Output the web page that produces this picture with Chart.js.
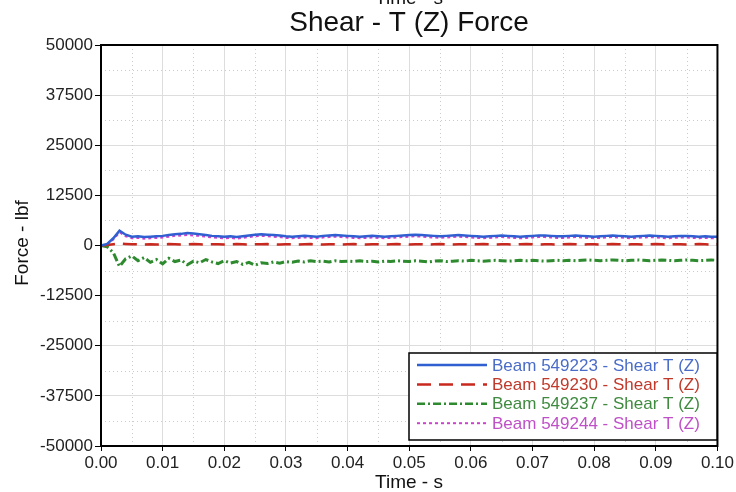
<!DOCTYPE html>
<html><head><meta charset="utf-8">
<script src="https://cdn.jsdelivr.net/npm/chart.js@4/dist/chart.umd.min.js"></script>
<style>html,body{margin:0;padding:0;background:#fff}</style>
</head><body>
<canvas id="c" width="736" height="492"></canvas>
<script>
const time = [0,0.001,0.002,0.003,0.004,0.005,0.006,0.007,0.008,0.009,
0.010,0.011,0.012,0.013,0.014,0.015,0.016,0.017,0.018,0.019,
0.020,0.021,0.022,0.023,0.024,0.025,0.026,0.027,0.028,0.029,
0.030,0.031,0.032,0.033,0.034,0.035,0.036,0.037,0.038,0.039,
0.040,0.041,0.042,0.043,0.044,0.045,0.046,0.047,0.048,0.049,
0.050,0.051,0.052,0.053,0.054,0.055,0.056,0.057,0.058,0.059,
0.060,0.061,0.062,0.063,0.064,0.065,0.066,0.067,0.068,0.069,
0.070,0.071,0.072,0.073,0.074,0.075,0.076,0.077,0.078,0.079,
0.080,0.081,0.082,0.083,0.084,0.085,0.086,0.087,0.088,0.089,
0.090,0.091,0.092,0.093,0.094,0.095,0.096,0.097,0.098,0.099,0.100];

const beam549223 = [0,400,1800,3700,2700,2200,2300,2100,2200,2300,
2400,2600,2800,2900,3100,3000,2800,2600,2400,2300,
2200,2300,2100,2300,2500,2700,2800,2700,2600,2500,
2300,2200,2300,2400,2300,2200,2400,2500,2600,2500,
2400,2300,2200,2300,2400,2300,2200,2300,2400,2500,
2600,2700,2600,2500,2400,2300,2400,2500,2600,2500,
2400,2300,2200,2300,2400,2500,2400,2300,2200,2300,
2400,2500,2500,2400,2300,2300,2400,2500,2400,2300,
2200,2300,2400,2500,2400,2300,2200,2300,2400,2500,
2400,2300,2200,2300,2400,2400,2300,2200,2300,2200,2200];

const beam549230 = [0,100,300,500,400,300,300,250,300,250,
300,350,300,250,300,350,300,250,300,300,
250,300,350,300,250,300,300,350,300,250,
300,300,250,300,350,300,250,300,300,250,
300,350,300,250,300,300,250,300,350,300,
250,300,300,250,300,350,300,250,300,300,
250,300,350,300,250,300,300,250,300,350,
300,250,300,300,250,300,350,300,250,300,
300,250,300,350,300,250,300,300,250,300,
350,300,250,300,300,250,300,350,300,250,300];

const beam549237 = [0,-300,-1800,-5200,-3300,-2600,-3800,-3000,-4200,-3500,
-4600,-3200,-4000,-3600,-4800,-3900,-4300,-3500,-4100,-4500,
-3800,-4400,-4000,-4700,-4200,-4900,-4300,-4500,-4100,-4400,
-4000,-4200,-3900,-4100,-3800,-4000,-3900,-4100,-3800,-4000,
-3900,-4000,-3800,-4000,-3900,-4100,-3900,-4000,-3800,-3900,
-4000,-3800,-3900,-4100,-3900,-3800,-4000,-3900,-3800,-3900,
-3700,-3800,-3900,-3800,-3700,-3800,-3900,-3800,-3700,-3800,
-3700,-3800,-3900,-3800,-3700,-3800,-3700,-3800,-3700,-3600,
-3700,-3800,-3700,-3600,-3700,-3800,-3700,-3600,-3700,-3800,
-3700,-3600,-3700,-3800,-3700,-3600,-3700,-3800,-3700,-3600,-3700];

const beam549244 = [0,300,1500,3300,2300,1800,1900,1700,1800,1900,
2000,2200,2400,2500,2600,2500,2400,2200,2000,1900,
1800,1900,1700,1900,2100,2300,2400,2300,2200,2100,
1900,1800,1900,2000,1900,1800,2000,2100,2200,2100,
2000,1900,1800,1900,2000,1900,1800,1900,2000,2100,
2200,2300,2200,2100,2000,1900,2000,2100,2200,2100,
2000,1900,1800,1900,2000,2100,2000,1900,1800,1900,
2000,2100,2100,2000,1900,1900,2000,2100,2000,1900,
1800,1900,2000,2100,2000,1900,1800,1900,2000,2100,
2000,1900,1800,1900,2000,2000,1900,1800,1900,1800,1800];

const seriesNames = ["Beam 549223 - Shear T (Z)","Beam 549230 - Shear T (Z)","Beam 549237 - Shear T (Z)","Beam 549244 - Shear T (Z)"];
const xMinor = [0.005,0.015,0.025,0.035,0.045,0.055,0.065,0.075,0.085,0.095];
const yMinor = [-43750,-31250,-18750,-6250,6250,18750,31250,43750];

const FONT = "'Liberation Sans', Arial, sans-serif";
const lineColors = ['#2f5fd0','#c8281e','#2e8a2e','#d040d0'];
const textColors = ['#4a6cc8','#c0392b','#3f8a3f','#c050c8'];
const dashes = [[],[14,8],[8,3,2,3],[3,3]];
const widths = [2.5,2.5,3,2];
const series = [beam549223,beam549230,beam549237,beam549244];

const datasets = series.map((s,i)=>({
  label: seriesNames[i],
  data: time.map((t,k)=>({x:t,y:s[k]})),
  borderColor: lineColors[i],
  borderWidth: widths[i],
  borderDash: dashes[i],
  pointRadius: 0,
  tension: 0,
  fill: false
}));

const decor = {
  id:'decor',
  beforeDatasetsDraw(chart){
    const {ctx, chartArea:a, scales:{x,y}} = chart;
    ctx.save();
    ctx.strokeStyle = '#cccccc'; ctx.lineWidth = 1; ctx.setLineDash([1,3]);
    xMinor.forEach(v=>{const p=Math.round(x.getPixelForValue(v))+0.5;ctx.beginPath();ctx.moveTo(p,a.top);ctx.lineTo(p,a.bottom);ctx.stroke();});
    yMinor.forEach(v=>{const p=Math.round(y.getPixelForValue(v))+0.5;ctx.beginPath();ctx.moveTo(a.left,p);ctx.lineTo(a.right,p);ctx.stroke();});
    ctx.restore();
  },
  afterDraw(chart){
    const {ctx, chartArea:a} = chart;
    ctx.save();
    ctx.strokeStyle='#000'; ctx.lineWidth=2; ctx.setLineDash([]);
    ctx.strokeRect(a.left, a.top, a.right-a.left, a.bottom-a.top);
    ctx.fillStyle='#111'; ctx.textAlign='center';
    ctx.font = "19px " + FONT; ctx.textBaseline='alphabetic';
    ctx.fillText('Time - s', 409, 4);
    ctx.font = "28px " + FONT;
    ctx.fillText('Shear - T (Z) Force', 409, 31);
    ctx.font = "19px " + FONT;
    ctx.fillText('Time - s', 409, 488);
    ctx.save();
    ctx.translate(28, 243); ctx.rotate(-Math.PI/2);
    ctx.fillText('Force - lbf', 0, 0);
    ctx.restore();
    const L=409, T=353, R=717, B=440;
    ctx.fillStyle='#fff'; ctx.fillRect(L,T,R-L,B-T);
    ctx.strokeStyle='#000'; ctx.lineWidth=1.5; ctx.strokeRect(L,T,R-L,B-T);
    ctx.font = "17px " + FONT; ctx.textAlign='left'; ctx.textBaseline='middle';
    chart.data.datasets.forEach((ds,i)=>{
      const yy = 365 + i*19.4;
      ctx.strokeStyle = ds.borderColor; ctx.lineWidth = Math.min(ds.borderWidth,2.5); ctx.setLineDash(ds.borderDash);
      ctx.beginPath(); ctx.moveTo(417, yy); ctx.lineTo(487, yy); ctx.stroke();
      ctx.setLineDash([]);
      ctx.fillStyle = textColors[i];
      ctx.fillText(ds.label, 492, yy+1);
    });
    ctx.restore();
  }
};

new Chart(document.getElementById('c'), {
  type:'line',
  data:{datasets},
  options:{
    responsive:false, animation:false,
    layout:{padding:{top:45,right:17,left:0,bottom:0}},
    plugins:{legend:{display:false}, title:{display:false}, tooltip:{enabled:false}},
    scales:{
      x:{type:'linear', min:0, max:0.1,
         afterFit(s){s.height=46;},
         ticks:{stepSize:0.01, color:'#222', font:{family:FONT,size:17}, padding:2, maxRotation:0,
                callback:v=>Number(v).toFixed(2)},
         grid:{color:'#dddddd', tickColor:'#000', tickLength:5, drawTicks:true},
         border:{display:true,color:'#000',width:2}},
      y:{min:-50000, max:50000,
         afterFit(s){s.width=101;},
         ticks:{stepSize:12500, color:'#222', font:{family:FONT,size:17}, padding:2,
                callback:v=>String(v)},
         grid:{color:'#dddddd', tickColor:'#000', tickLength:6, drawTicks:true},
         border:{display:true,color:'#000',width:2}}
    }
  },
  plugins:[decor]
});
</script>
</body></html>
